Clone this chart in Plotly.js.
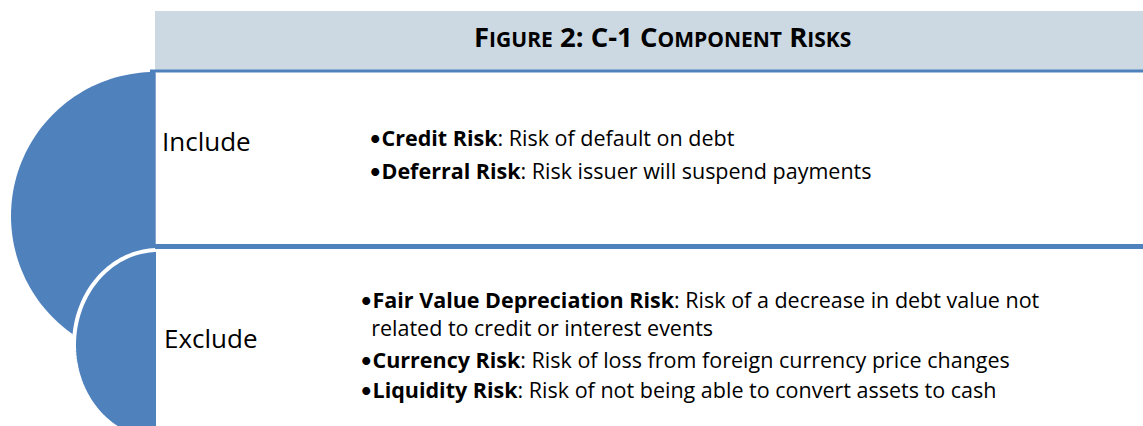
<!DOCTYPE html>
<html>
<head>
<meta charset="utf-8">
<script src="https://cdn.plot.ly/plotly-3.0.1.min.js"></script>
<style>html,body{margin:0;padding:0;background:#fff;}#chart{width:1143px;height:426px;}</style>
</head>
<body>
<div id="chart"></div>
<script>
// ---- content (data) ----
const titleText = "Figure 2: C-1 Component Risks";
const groups = ["Include", "Exclude"];
const includeTerms = ["Credit Risk", "Deferral Risk"];
const includeDefs = [["Risk of default on debt"], ["Risk issuer will suspend payments"]];
const excludeTerms = ["Fair Value Depreciation Risk", "Currency Risk", "Liquidity Risk"];
const excludeDefs = [
  ["Risk of a decrease in debt value not", "related to credit or interest events"],
  ["Risk of loss from foreign currency price changes"],
  ["Risk of not being able to convert assets to cash"]
];

// ---- styling / layout ----
const W = 1143, H = 426;
const BLUE = "#4F81BD";
const HEADER = "#CCD9E2";
const FONT = "'Open Sans', 'Noto Sans', sans-serif";
const BULLET = '<span style="font-family:Lato">•</span>';
const INDENT = "&nbsp;&nbsp;";

function halfEllipse(cx, cy, rx, ry) {
  let p = "M" + cx + "," + (cy - ry);
  const n = 90;
  for (let i = 1; i <= n; i++) {
    const t = Math.PI * i / n;
    p += " L" + (cx - rx * Math.sin(t)).toFixed(2) + "," + (cy - ry * Math.cos(t)).toFixed(2);
  }
  return p + " Z";
}

function smallCaps(s, big, small) {
  let out = "";
  for (const ch of s) {
    if (ch >= "a" && ch <= "z") out += '<span style="font-size:' + small + 'px">' + ch.toUpperCase() + "</span>";
    else out += '<span style="font-size:' + big + 'px">' + ch + "</span>";
  }
  return out;
}

const shapes = [
  {type: "path", path: halfEllipse(155, 216, 144, 144), fillcolor: BLUE, line: {width: 0}},
  {type: "path", path: halfEllipse(158, 345, 84, 95), fillcolor: BLUE, line: {color: "#ffffff", width: 4}},
  {type: "rect", x0: 155, x1: W, y0: 11, y1: 70, fillcolor: HEADER, line: {width: 0}},
  {type: "line", x0: 150, x1: W, y0: 71, y1: 71, line: {color: BLUE, width: 3}},
  {type: "line", x0: 155.5, x1: 155.5, y0: 72, y1: 244, line: {color: "#86A6CF", width: 1}},
  {type: "line", x0: 155, x1: W, y0: 246.5, y1: 246.5, line: {color: BLUE, width: 5}}
];

const annotations = [];
function addText(x, y, text, size, extra) {
  annotations.push(Object.assign({
    x: x, y: y, xref: "x", yref: "y", text: text, showarrow: false,
    xanchor: "left", yanchor: "middle", align: "left",
    font: {family: FONT, size: size, color: "#000"}
  }, extra || {}));
}

// title
addText(662, 36, "<b>" + smallCaps(titleText, 27.5, 21) + "</b>", 27.5, {xanchor: "center"});
// group labels
addText(160, 141, groups[0], 26);
addText(162, 338, groups[1], 26);

// include bullets
const incY = [137.5, 170.5];
includeTerms.forEach((t, i) => {
  addText(367, incY[i], BULLET + "<b>" + t + "</b>: " + includeDefs[i][0], 21.5);
});
// exclude bullets (wrapped lines are indented under the term)
const excY = [313.5, 359.5, 389.5];
excludeTerms.forEach((t, i) => {
  const lines = excludeDefs[i].slice(1).map(l => INDENT + l);
  const text = [BULLET + "<b>" + t + "</b>: " + excludeDefs[i][0]].concat(lines).join("<br>");
  addText(358, excY[i], text, 21.5);
});

const layout = {
  width: W, height: H,
  margin: {l: 0, r: 0, t: 0, b: 0, pad: 0},
  paper_bgcolor: "#fff", plot_bgcolor: "#fff",
  xaxis: {range: [0, W], visible: false, fixedrange: true},
  yaxis: {range: [H, 0], visible: false, fixedrange: true},
  showlegend: false,
  shapes: shapes,
  annotations: annotations
};

Plotly.newPlot("chart", [], layout, {displayModeBar: false, staticPlot: true});
</script>
</body>
</html>
